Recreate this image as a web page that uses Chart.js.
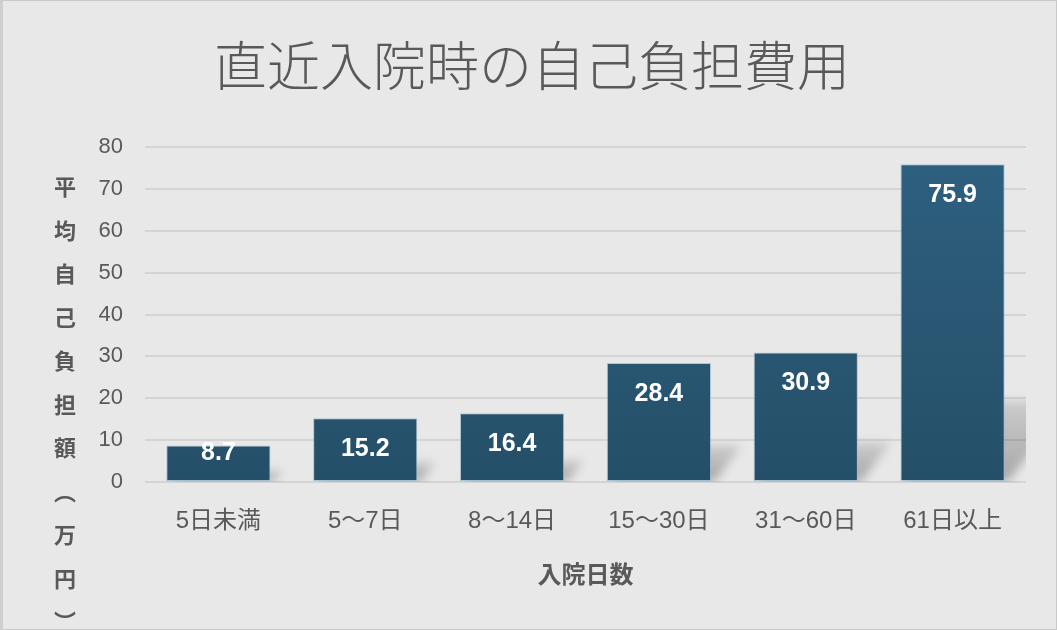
<!DOCTYPE html>
<html>
<head>
<meta charset="utf-8">
<script src="https://cdn.jsdelivr.net/npm/chart.js@4.4.1/dist/chart.umd.min.js"></script>
<style>
  html, body { margin: 0; padding: 0; background: #e8e8e8; }
  #wrap { position: relative; width: 1057px; height: 630px; box-sizing: border-box; border: 1px solid #c9c9c9; border-left: 3px solid #cfcfcf; background: #e8e8e8; }
</style>
</head>
<body>
<div id="wrap"><canvas id="c"></canvas></div>
<script>
const chartTitle = "直近入院時の自己負担費用";
const categories = ["5日未満", "5～7日", "8～14日", "15～30日", "31～60日", "61日以上"];
const values = [8.7, 15.2, 16.4, 28.4, 30.9, 75.9];
const yTicks = [0, 10, 20, 30, 40, 50, 60, 70, 80];
const yAxisTitleChars = ["平", "均", "自", "己", "負", "担", "額", "︵", "万", "円", "︶"];
const xAxisTitle = "入院日数";

const FONT = "'Liberation Sans', 'Noto Sans CJK JP', sans-serif";
const GRAY = "#595959";

const decorPlugin = {
  id: "decor",
  beforeDatasetsDraw(chart) {
    const ctx = chart.ctx;
    const area = chart.chartArea;
    const meta = chart.getDatasetMeta(0);
    ctx.save();
    ctx.beginPath();
    ctx.rect(area.left, area.top, area.right - area.left, area.bottom - area.top);
    ctx.clip();
    ctx.filter = "blur(5px)";
    meta.data.forEach((bar) => {
      const p = bar.getProps(["x", "y", "base", "width"], true);
      const left = p.x - p.width / 2, right = p.x + p.width / 2;
      const h = p.base - p.y;
      const sh = Math.min(h * 0.3, 80);
      const dx = sh * 0.75;
      const g = ctx.createLinearGradient(0, p.base, 0, p.base - sh);
      g.addColorStop(0, "rgba(0,0,0,0.28)");
      g.addColorStop(1, "rgba(0,0,0,0.12)");
      ctx.fillStyle = g;
      ctx.beginPath();
      ctx.moveTo(left + 4, p.base);
      ctx.lineTo(right + 4, p.base);
      ctx.lineTo(right + 4 + dx, p.base - sh);
      ctx.lineTo(left + 4 + dx, p.base - sh);
      ctx.closePath();
      ctx.fill();
    });
    ctx.restore();
  },
  afterDatasetsDraw(chart) {
    const ctx = chart.ctx;
    const meta = chart.getDatasetMeta(0);
    ctx.save();
    ctx.fillStyle = "#ffffff";
    ctx.font = "bold 25px " + FONT;
    ctx.textAlign = "center";
    ctx.textBaseline = "middle";
    meta.data.forEach((bar, i) => {
      const p = bar.getProps(["x", "y", "base"], true);
      const y = Math.min(p.y + 31, p.base - 28);
      ctx.fillText(String(values[i]), p.x, y);
    });
    ctx.restore();
  },
  afterDraw(chart) {
    const ctx = chart.ctx;
    const area = chart.chartArea;
    ctx.save();
    // chart title
    ctx.fillStyle = GRAY;
    ctx.font = "300 53px 'Noto Sans CJK JP', sans-serif";
    ctx.textAlign = "center";
    ctx.textBaseline = "middle";
    ctx.fillText(chartTitle, 529, 65);
    // y axis title (vertical)
    ctx.font = "bold 22px 'Noto Sans CJK JP', sans-serif";
    yAxisTitleChars.forEach((ch, i) => {
      ctx.fillText(ch, 62, 186 + i * 43.5);
    });
    // x axis title
    ctx.font = "bold 24px 'Noto Sans CJK JP', sans-serif";
    ctx.fillText(xAxisTitle, (area.left + area.right) / 2, 573);
    ctx.restore();
  }
};

function makeGradient(context) {
  const chart = context.chart;
  const area = chart.chartArea;
  if (!area) return "#2a5874";
  const el = context.element;
  const top = el && el.y !== undefined ? el.y : area.top;
  const bottom = el && el.base !== undefined ? el.base : area.bottom;
  const g = chart.ctx.createLinearGradient(0, top, 0, bottom);
  g.addColorStop(0, "#2e6080");
  g.addColorStop(1, "#254f68");
  return g;
}

new Chart(document.getElementById("c"), {
  type: "bar",
  data: {
    labels: categories,
    datasets: [{
      data: values,
      backgroundColor: makeGradient,
      borderColor: "rgba(150,185,205,0.7)",
      borderWidth: 1,
      borderSkipped: false,
      barPercentage: 0.71,
      categoryPercentage: 1.0
    }]
  },
  options: {
    responsive: true,
    maintainAspectRatio: false,
    animation: false,
    layout: { padding: { top: 146, right: 30, bottom: 0, left: 0 } },
    plugins: {
      legend: { display: false },
      title: { display: false },
      tooltip: { enabled: false }
    },
    scales: {
      x: {
        grid: { display: false, drawTicks: false },
        border: { display: false },
        ticks: { color: GRAY, font: { family: FONT, size: 24 }, padding: 25, maxRotation: 0 },
        afterFit(scale) { scale.height = 147; }
      },
      y: {
        min: 0,
        max: 80,
        afterBuildTicks(scale) { scale.ticks = yTicks.map(v => ({ value: v })); },
        grid: { color: "#d4d4d4", lineWidth: 2, drawTicks: false },
        border: { display: false },
        ticks: { color: GRAY, font: { family: FONT, size: 22 }, padding: 22 },
        afterFit(scale) { scale.width = 142; }
      }
    }
  },
  plugins: [decorPlugin]
});
</script>
</body>
</html>
